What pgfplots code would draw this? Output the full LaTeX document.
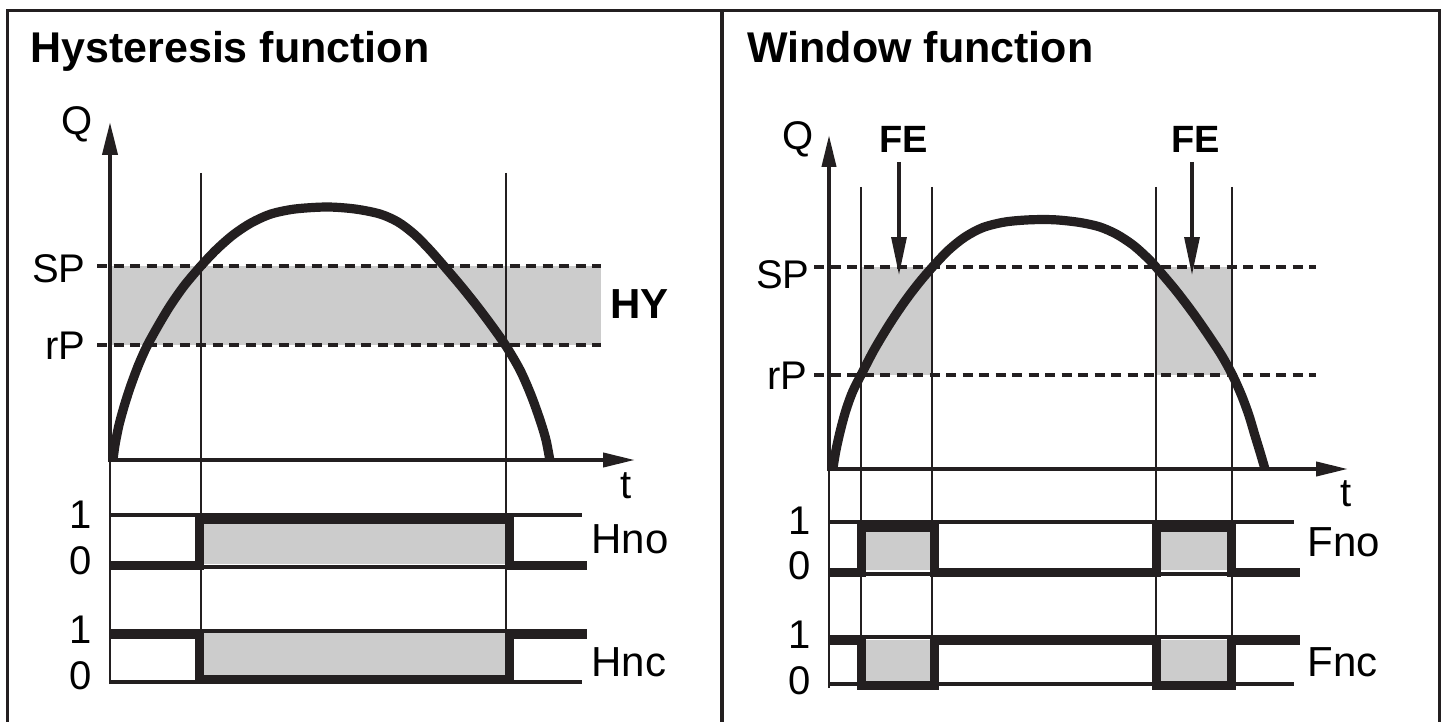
\documentclass[border=0pt]{standalone}
\usepackage{fontspec}
\setmainfont{Liberation Sans}
\usepackage{pgfplots}
\pgfplotsset{compat=1.18}
\usetikzlibrary{arrows.meta}
\definecolor{ink}{HTML}{231F20}
\definecolor{band}{HTML}{CCCCCC}

\tikzset{
  lbl/.style={inner sep=0pt, font=\fontsize{20}{24}\selectfont},
  blbl/.style={inner sep=0pt, font=\bfseries\fontsize{21}{25}\selectfont},
}

\begin{document}
\begin{tikzpicture}
\begin{axis}[
    width=723.5pt, height=361pt, scale only axis, hide axis,
    xmin=0, xmax=1447, ymin=0, ymax=722, y dir=reverse,
    clip=false,
    every axis plot/.append style={no marks, line join=miter},
  ]
  % frame
  \addplot[draw=ink, line width=1.75pt] coordinates {(7.5,722) (7.5,10.5) (1439.5,10.5) (1439.5,722)};
  \addplot[draw=ink, line width=1.75pt] coordinates {(722,10.5) (722,722)};

  % ---------------- hysteresis ----------------
  % grey bands
  \addplot[fill=band, draw=none] coordinates {(110,266) (601,266) (601,345) (110,345)} --cycle;
  \addplot[fill=band, draw=none] coordinates {(204,522) (506,522) (506,564) (204,564)} --cycle;
  \addplot[fill=band, draw=none] coordinates {(204,633) (506,633) (506,677) (204,677)} --cycle;
  % SP / rP
  \addplot[draw=ink, line width=2pt, dash pattern=on 5pt off 3.25pt] coordinates {(97,266) (601,266)};
  \addplot[draw=ink, line width=2pt, dash pattern=on 5pt off 3.25pt] coordinates {(97,345) (601,345)};
  % switching verticals
  \addplot[draw=ink, line width=1.3pt] coordinates {(201,173) (201,684)};
  \addplot[draw=ink, line width=1.3pt] coordinates {(506,173) (506,684)};
  % axes
  \addplot[draw=ink, line width=1.3pt] coordinates {(110,684) (110,460)};
  \addplot[draw=ink, line width=2pt, -{Triangle[length=16.5pt, width=7.5pt]}] coordinates {(110,462) (110,122)};
  \addplot[draw=ink, line width=2pt, -{Triangle[length=16pt, width=7pt]}] coordinates {(108,460) (635,460)};
  % level lines
  \addplot[draw=ink, line width=2pt] coordinates {(110,515) (582,515)};
  \addplot[draw=ink, line width=2pt] coordinates {(110,567) (587,567)};
  \addplot[draw=ink, line width=2pt] coordinates {(110,631) (587,631)};
  \addplot[draw=ink, line width=2pt] coordinates {(110,682) (582,682)};
  % outputs
  \addplot[draw=ink, line width=4.5pt] coordinates {(110,565) (199,565) (199,519) (509,519) (509,565) (587,565)};
  \addplot[draw=ink, line width=4.5pt] coordinates {(110,634) (199,634) (199,679) (509,679) (509,634) (587,634)};
  % signal curve
  \addplot[draw=ink, line width=4.6pt, smooth] coordinates {
    (113,460) (115,445) (119,425) (124.5,405) (131,385) (138.5,365) (147,346)
    (158,326) (170,306) (184,286) (200,267) (216,250) (233,235) (251,223)
    (271,214) (295,209) (327,207) (355,209) (380,214) (398,222) (414,234)
    (429,249) (444,266) (461,286) (477,306) (492,326) (506,346) (520,370)
    (531,395) (540,420) (546,440) (550,461)};

  \node[blbl, anchor=base west, font=\bfseries\fontsize{21.5}{26}\selectfont] at (axis cs:30,63) {Hysteresis function};
  \node[lbl, anchor=base west] at (axis cs:61,135) {Q};
  \node[lbl, anchor=base east] at (axis cs:86,282) {SP};
  \node[lbl, anchor=base east] at (axis cs:86,359) {rP};
  \node[blbl, anchor=base west] at (axis cs:610,318) {HY};
  \node[lbl, anchor=base west] at (axis cs:620,498) {t};
  \node[lbl, anchor=base] at (axis cs:81,528) {1};
  \node[lbl, anchor=base] at (axis cs:81,574) {0};
  \node[lbl, anchor=base] at (axis cs:81,643) {1};
  \node[lbl, anchor=base] at (axis cs:81,689) {0};
  \node[lbl, anchor=base west, font=\fontsize{21}{25}\selectfont] at (axis cs:591,553) {Hno};
  \node[lbl, anchor=base west, font=\fontsize{21}{25}\selectfont] at (axis cs:591,676) {Hnc};

  % ---------------- window ----------------
  \addplot[fill=band, draw=none] coordinates {(861,267) (932,267) (932,375) (861,375)} --cycle;
  \addplot[fill=band, draw=none] coordinates {(1156,267) (1232,267) (1232,375) (1156,375)} --cycle;
  \addplot[fill=band, draw=none] coordinates {(865,531) (930,531) (930,570) (865,570)} --cycle;
  \addplot[fill=band, draw=none] coordinates {(1160,531) (1227,531) (1227,570) (1160,570)} --cycle;
  \addplot[fill=band, draw=none] coordinates {(865,640) (930,640) (930,681) (865,681)} --cycle;
  \addplot[fill=band, draw=none] coordinates {(1160,640) (1227,640) (1227,681) (1160,681)} --cycle;
  \addplot[draw=ink, line width=2pt, dash pattern=on 5pt off 3.25pt] coordinates {(814,267) (1316,267)};
  \addplot[draw=ink, line width=2pt, dash pattern=on 5pt off 3.25pt] coordinates {(814,375) (1316,375)};
  \addplot[draw=ink, line width=1.4pt] coordinates {(861,187) (861,684)};
  \addplot[draw=ink, line width=1.4pt] coordinates {(932,187) (932,684)};
  \addplot[draw=ink, line width=1.4pt] coordinates {(1156,187) (1156,684)};
  \addplot[draw=ink, line width=1.4pt] coordinates {(1232,187) (1232,684)};
  % FE arrows
  \addplot[draw=ink, line width=1.6pt, -{Triangle[length=19pt, width=7.5pt]}] coordinates {(899,162) (899,275)};
  \addplot[draw=ink, line width=1.6pt, -{Triangle[length=19pt, width=7.5pt]}] coordinates {(1192,162) (1192,275)};
  % axes
  \addplot[draw=ink, line width=1.3pt] coordinates {(829,688) (829,469)};
  \addplot[draw=ink, line width=2pt, -{Triangle[length=16pt, width=7pt]}] coordinates {(829,471) (829,135)};
  \addplot[draw=ink, line width=2pt, -{Triangle[length=16pt, width=7pt]}] coordinates {(827,469) (1348,469)};
  % level lines
  \addplot[draw=ink, line width=2pt] coordinates {(829,522) (1294,522)};
  \addplot[draw=ink, line width=2pt] coordinates {(829,574) (1300,574)};
  \addplot[draw=ink, line width=2pt] coordinates {(829,637) (1300,637)};
  \addplot[draw=ink, line width=2pt] coordinates {(829,684) (1294,684)};
  % outputs
  \addplot[draw=ink, line width=4.5pt] coordinates {(829,572) (861,572) (861,527) (934,527) (934,572) (1156,572) (1156,527) (1231,527) (1231,572) (1300,572)};
  \addplot[draw=ink, line width=4.5pt] coordinates {(829,640) (861,640) (861,685) (934,685) (934,640) (1156,640) (1156,685) (1231,685) (1231,640) (1300,640)};
  % signal curve
  \addplot[draw=ink, line width=4.6pt, smooth] coordinates {
    (833,468) (836,450) (840.5,430) (846,410) (852.5,392) (861,375) (874,350)
    (889,325) (903.7,303) (918,284) (932.5,267) (948.7,250) (965,237) (983,227.5)
    (1005,222) (1030,219.8) (1055,219.8) (1080,222.5) (1100,227) (1117,234.5)
    (1133,245) (1146,256.5) (1156,267) (1175.5,290) (1193,313)
    (1209,336) (1222,356) (1232.4,375) (1241.4,395) (1248.8,415) (1254.8,435)
    (1260,452) (1264.7,468)};

  \node[blbl, anchor=base west, font=\bfseries\fontsize{21.5}{26}\selectfont] at (axis cs:747,63) {Window function};
  \node[lbl, anchor=base west] at (axis cs:782,149) {Q};
  \node[blbl, anchor=base west, font=\bfseries\fontsize{19}{23}\selectfont] at (axis cs:879,153) {FE};
  \node[blbl, anchor=base west, font=\bfseries\fontsize{19}{23}\selectfont] at (axis cs:1171,153) {FE};
  \node[lbl, anchor=base east] at (axis cs:810,288) {SP};
  \node[lbl, anchor=base east] at (axis cs:808,389) {rP};
  \node[lbl, anchor=base west] at (axis cs:1340,506) {t};
  \node[lbl, anchor=base] at (axis cs:800,534) {1};
  \node[lbl, anchor=base] at (axis cs:800,579) {0};
  \node[lbl, anchor=base] at (axis cs:800,648) {1};
  \node[lbl, anchor=base] at (axis cs:800,694) {0};
  \node[lbl, anchor=base west, font=\fontsize{21}{25}\selectfont] at (axis cs:1307,556) {Fno};
  \node[lbl, anchor=base west, font=\fontsize{21}{25}\selectfont] at (axis cs:1307,676) {Fnc};
\end{axis}
\pgfresetboundingbox
\path[use as bounding box] (0,0) rectangle (723.5pt,361pt);
\end{tikzpicture}
\end{document}
